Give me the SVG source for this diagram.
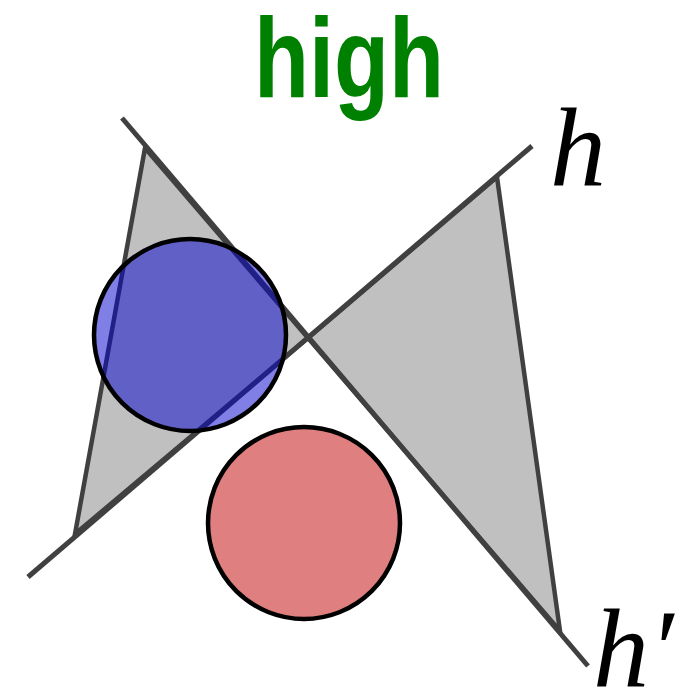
<svg xmlns="http://www.w3.org/2000/svg" width="693" height="695" viewBox="0 0 693 695">
<style>
.line{stroke:#404040;stroke-width:5;fill:none;stroke-linecap:butt}
.tri{fill:#c0c0c0;stroke:#404040;stroke-width:4.5;stroke-linejoin:miter}
.circ{stroke:#000;stroke-width:4.5}
.lbl{font-family:"Liberation Serif","DejaVu Serif",serif;font-style:italic;font-size:112px;fill:#000}
</style>
<rect width="693" height="695" fill="#fff"/>
<g id="title"><text x="254" y="97" font-family="Liberation Sans, Arial, sans-serif" font-weight="bold" font-size="114" fill="#008000" textLength="190" lengthAdjust="spacingAndGlyphs">high</text></g>
<g id="triangle-left"><polygon class="tri" points="145,148 308,338 75,534"/></g>
<g id="triangle-right"><polygon class="tri" points="308,338 497,177 560,631"/></g>
<g id="connectors">
<line class="line" x1="28" y1="577" x2="532" y2="146"/>
<line class="line" x1="122" y1="118" x2="588" y2="666"/>
</g>
<g id="blue-circle"><circle class="circ" cx="190" cy="335" r="96" fill="#0000cc" fill-opacity="0.5"/></g>
<g id="red-circle"><circle class="circ" cx="304" cy="523" r="96" fill="#e07f7f"/></g>
<g id="label-h"><text class="lbl" x="550" y="186">h</text></g>
<g id="label-hprime"><text class="lbl" x="593" y="687">h′</text></g>
</svg>
